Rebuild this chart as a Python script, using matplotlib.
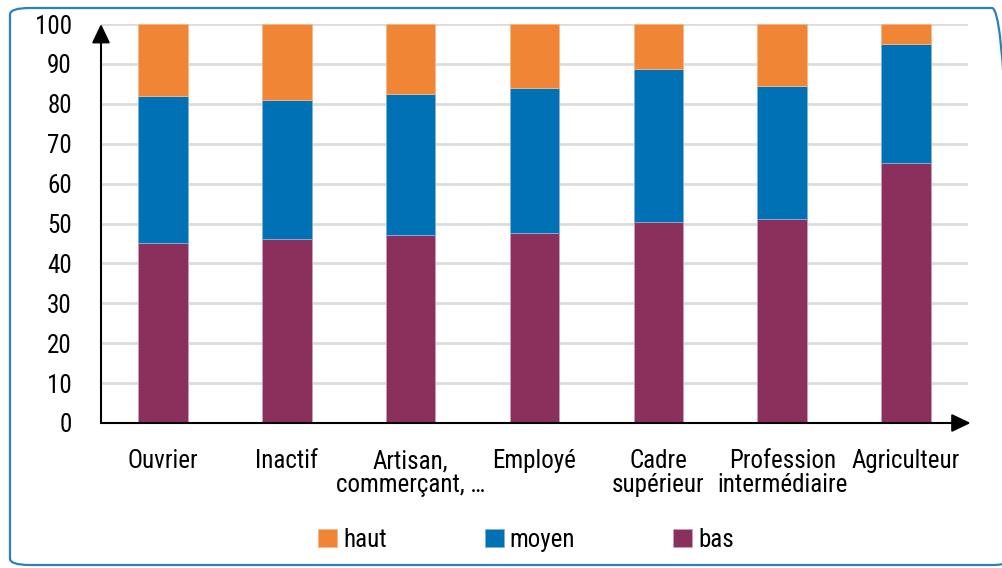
import matplotlib
matplotlib.use("Agg")
import matplotlib.pyplot as plt
from matplotlib.patches import FancyBboxPatch
from matplotlib import font_manager

categories = ["Ouvrier", "Inactif", "Artisan,\ncommerçant, …", "Employé",
              "Cadre\nsupérieur", "Profession\nintermédiaire", "Agriculteur"]
bas = [45.0, 46.0, 47.2, 47.7, 50.5, 51.2, 65.1]
moyen_top = [82.0, 81.0, 82.5, 83.9, 88.6, 84.4, 95.1]
haut_top = [100, 100, 100, 100, 100, 100, 100]
moyen = [m - b for m, b in zip(moyen_top, bas)]
haut = [h - m for h, m in zip(haut_top, moyen_top)]
yticks = [0, 10, 20, 30, 40, 50, 60, 70, 80, 90, 100]

names = {f.name for f in font_manager.fontManager.ttflist}
fam = "Liberation Sans"
for cand in ["Roboto Condensed", "Liberation Sans Narrow", "Arial Narrow",
             "Archivo Narrow", "Barlow Semi Condensed", "Asap Condensed"]:
    if cand in names:
        fam = cand
        break
plt.rcParams['font.family'] = [fam, 'DejaVu Sans']

c_haut = "#F08536"
c_moyen = "#0071B4"
c_bas = "#8B2F5C"

fig = plt.figure(figsize=(10.02, 5.68), dpi=100)
ax = fig.add_axes([101/1002, 1-423/568, (968-101)/1002, (423-24)/568])

x = list(range(len(categories)))
w = 0.4
ax.bar(x, bas, w, color=c_bas, edgecolor="#c9a0b4", linewidth=0.6, label="bas", zorder=3)
ax.bar(x, moyen, w, bottom=bas, color=c_moyen, edgecolor="#7fb4d8", linewidth=0.6, label="moyen", zorder=3)
ax.bar(x, haut, w, bottom=moyen_top, color=c_haut, edgecolor="#f5b88a", linewidth=0.6, label="haut", zorder=3)

FS = 18
ax.set_xlim(-0.5, 6.5)
ax.set_ylim(0, 100)
ax.set_yticks(yticks)
ax.set_yticklabels([str(v) for v in yticks], fontsize=FS)
ax.set_xticks(x)
ax.set_xticklabels(categories, fontsize=FS, linespacing=1.0)
ax.tick_params(axis='both', length=0)
ax.tick_params(axis='y', pad=21)
ax.tick_params(axis='x', pad=19)
for s in ax.spines.values():
    s.set_visible(False)
ax.yaxis.grid(True, color="#dcdcdc", linewidth=2, zorder=0)
ax.set_axisbelow(True)

# axes arrows
ax.annotate("", xy=(0, 1.0), xycoords="axes fraction", xytext=(0, 0),
            arrowprops=dict(arrowstyle="-|>,head_length=1.15,head_width=0.55",
                            color="black", lw=1.5, shrinkA=0, shrinkB=0), annotation_clip=False)
ax.annotate("", xy=(1.003, 0), xycoords="axes fraction", xytext=(0, 0),
            arrowprops=dict(arrowstyle="-|>,head_length=1.15,head_width=0.55",
                            color="black", lw=1.5, shrinkA=0, shrinkB=0), annotation_clip=False)

h, l = ax.get_legend_handles_labels()
order = [2, 1, 0]
fig.legend([h[i] for i in order], [l[i] for i in order], loc="center",
           bbox_to_anchor=(0.525, 1-540/568), ncol=3, frameon=False, fontsize=FS,
           handlelength=0.76, handleheight=0.72, handletextpad=0.25, columnspacing=3.9)

frame = FancyBboxPatch((10/1002, 1-565/568), 1.0, (565-8)/568,
                       boxstyle="round,pad=0,rounding_size=0.02",
                       transform=fig.transFigure, fill=False,
                       edgecolor="#2E7FC1", linewidth=1.6, mutation_aspect=568/1002)
fig.patches.append(frame)

fig.savefig("out.png", dpi=100)
